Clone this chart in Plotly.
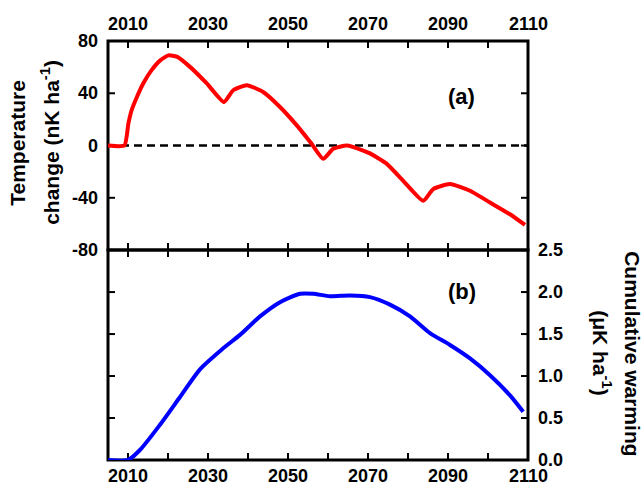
import plotly.graph_objects as go

# (a) annual temperature change, nK per ha
years_a = [2005, 2009.1, 2010.1, 2010.9, 2012.2, 2013.8, 2015.9, 2018, 2020.1, 2022.2,
           2025.5, 2029.7, 2034.0, 2036.3, 2039.7, 2043.8, 2048, 2052.2, 2055.9,
           2058.8, 2061.3, 2064.7, 2068.8, 2070.5, 2074.7, 2078.8, 2083.8,
           2086.3, 2090.5, 2095.5, 2100.5, 2105.5, 2109.25]
temp_change = [0, 0, 17, 27, 37, 47.5, 57.7, 65, 69, 68,
               60.2, 47.5, 33.3, 42.3, 46.2, 41, 29.5, 15.4, 1.3,
               -10.2, -2.5, 0, -3.8, -6, -14, -27, -42.3,
               -33.3, -29.5, -34.6, -43.6, -52.6, -60.8]

# (b) cumulative warming, uK per ha
years_b = [2005, 2010, 2013, 2018, 2023, 2028, 2033.8, 2038, 2043, 2048,
           2053, 2056.3, 2060.5, 2065.5, 2070.5, 2075.5, 2080.5, 2085.5,
           2090.5, 2095.5, 2100.5, 2105.5, 2108.8]
cum_warming = [0, 0, 0.12, 0.42, 0.75, 1.08, 1.33, 1.49, 1.71, 1.88,
               1.98, 1.98, 1.95, 1.96, 1.94, 1.85, 1.71, 1.51,
               1.37, 1.21, 1.01, 0.77, 0.575]

x_ticks = [2010, 2020, 2030, 2040, 2050, 2060, 2070, 2080, 2090, 2100, 2110]
x_ticktext = ["2010", "", "2030", "", "2050", "", "2070", "", "2090", "", "2110"]
ya_ticks = [-80, -40, 0, 40, 80]
ya_ticktext = ["-80", "-40", "0", "40", "80"]
yb_ticks = [0, 0.5, 1.0, 1.5, 2.0, 2.5]
yb_ticktext = ["0.0", "0.5", "1.0", "1.5", "2.0", "2.5"]

FONT = "Liberation Sans, Arial, sans-serif"
TICK_LEN = 7
LABEL_FONT = dict(family=FONT, size=18, color="black", weight="bold")

fig = go.Figure()
fig.add_trace(go.Scatter(x=years_a, y=temp_change, mode="lines", xaxis="x", yaxis="y",
                         cliponaxis=False,
                         line=dict(color="#ff0000", width=4, shape="spline", smoothing=0.5)))
fig.add_trace(go.Scatter(x=years_b, y=cum_warming, mode="lines", xaxis="x2", yaxis="y2",
                         cliponaxis=False,
                         line=dict(color="#0000ff", width=4, shape="spline", smoothing=0.7)))

# zero reference in panel (a)
fig.add_shape(type="line", xref="x domain", yref="y", x0=0, x1=1, y0=0, y1=0,
              line=dict(color="black", width=2.5, dash="8px,5px"), layer="below")

hidden = dict(visible=True, showline=False, ticks="", showticklabels=False,
              showgrid=False, zeroline=False, automargin=False)

fig.update_layout(
    template="none",
    width=644, height=493,
    margin=dict(l=108, r=116, t=41, b=33, autoexpand=False),
    paper_bgcolor="white", plot_bgcolor="white",
    showlegend=False,
    font=dict(family=FONT, color="black"),
    xaxis=dict(range=[2005, 2110], anchor="y", domain=[0, 1], **hidden),
    xaxis2=dict(range=[2005, 2110], anchor="y2", domain=[0, 1], **hidden),
    yaxis=dict(range=[-80, 80], anchor="x", domain=[0.501, 1.0], **hidden),
    yaxis2=dict(range=[0, 2.5], anchor="x2", domain=[0.0, 0.501], **hidden),
)

tick_line = dict(color="black", width=2)

for xr, yr in (("x", "y"), ("x2", "y2")):
    # panel frame
    fig.add_shape(type="rect", xref=xr + " domain", yref=yr + " domain",
                  x0=0, x1=1, y0=0, y1=1, line=dict(color="black", width=3),
                  layer="below")
    # x ticks pointing inward from top and bottom edges
    for v in x_ticks:
        for anchor, d in ((1, -TICK_LEN), (0, TICK_LEN)):
            fig.add_shape(type="line", xref=xr, yref=yr + " domain",
                          x0=v, x1=v, ysizemode="pixel", yanchor=anchor, y0=0, y1=d,
                          line=tick_line, layer="below")

# y ticks pointing inward from left and right edges
for yr, xr, vals in (("y", "x", ya_ticks), ("y2", "x2", yb_ticks)):
    for v in vals:
        for anchor, d in ((0, TICK_LEN), (1, -TICK_LEN)):
            fig.add_shape(type="line", xref=xr + " domain", yref=yr,
                          y0=v, y1=v, xsizemode="pixel", xanchor=anchor, x0=0, x1=d,
                          line=tick_line, layer="below")

# tick labels
for v, t in zip(x_ticks, x_ticktext):
    if not t:
        continue
    fig.add_annotation(text=t, x=v, xref="x", y=1, yref="y domain", yanchor="bottom",
                       yshift=5, showarrow=False, font=LABEL_FONT)
    fig.add_annotation(text=t, x=v, xref="x2", y=0, yref="y2 domain", yanchor="top",
                       yshift=-4, showarrow=False, font=LABEL_FONT)
for v, t in zip(ya_ticks, ya_ticktext):
    fig.add_annotation(text=t, x=0, xref="x domain", y=v, yref="y", xanchor="right",
                       xshift=-8, showarrow=False, font=LABEL_FONT)
for v, t in zip(yb_ticks, yb_ticktext):
    fig.add_annotation(text=t, x=1, xref="x2 domain", y=v, yref="y2", xanchor="left",
                       xshift=8, showarrow=False, font=LABEL_FONT)

# axis titles
title_font = dict(family=FONT, size=21, color="black", weight="bold")
for text, x, y, angle in (("Temperature", -0.2143, 0.757, -90),
                          ("change (nK ha<sup>-1</sup>)", -0.138, 0.757, -90),
                          ("Cumulative warming", 1.25, 0.255, 90),
                          ("(μK ha<sup>-1</sup>)", 1.176, 0.255, 90)):
    fig.add_annotation(text=text, xref="paper", yref="paper", x=x, y=y,
                       textangle=angle, showarrow=False, font=title_font,
                       xanchor="center", yanchor="middle")

panel_font = dict(family=FONT, size=22, color="black", weight="bold")
fig.add_annotation(text="(a)", xref="paper", yref="paper", x=0.879, y=0.902,
                   showarrow=False, font=panel_font)
fig.add_annotation(text="(b)", xref="paper", yref="paper", x=0.881, y=0.401,
                   showarrow=False, font=panel_font)

fig.write_html("out.html")
